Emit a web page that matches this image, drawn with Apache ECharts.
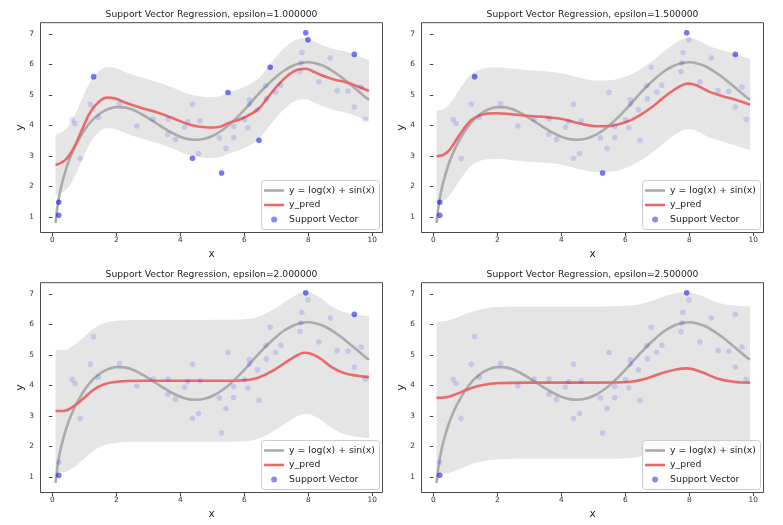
<!DOCTYPE html>
<html><head><meta charset="utf-8">
<script src="https://cdn.jsdelivr.net/npm/echarts@6/dist/echarts.min.js"></script>
<style>html,body{margin:0;padding:0;background:#fff}#c{width:783px;height:525px}</style>
</head><body><div id="c"></div>
<script>
// ---- data ----
const epsilons = [1.0, 1.5, 2.0, 2.5];
const xTicks = [0, 2, 4, 6, 8, 10];
const yTicks = [1, 2, 3, 4, 5, 6, 7];

const sampleX = [0.20,0.20,0.62,0.71,0.87,1.19,1.29,1.44,2.10,2.64,3.15,3.61,3.62,3.85,4.13,4.23,4.38,4.38,4.57,4.62,
  5.22,5.29,5.43,5.49,5.67,5.67,6.01,6.11,6.16,6.16,6.41,6.46,6.67,6.69,6.81,6.98,7.14,7.74,7.77,7.80,
  7.92,7.99,8.33,8.69,8.90,9.24,9.44,9.44,9.65,9.78];
const sampleY = [1.48,1.05,4.19,4.06,2.91,4.69,5.60,4.27,4.72,3.98,4.21,3.71,4.21,3.54,3.94,4.13,4.69,2.92,3.08,4.15,
  3.59,2.44,3.24,5.08,3.96,3.60,4.19,3.92,4.85,4.70,4.51,3.51,5.31,4.87,5.91,5.09,5.32,5.77,6.05,6.39,
  7.04,6.81,5.43,6.21,5.14,5.12,6.33,4.60,5.26,4.20];

// support-vector indices (into the sample arrays) for each epsilon
const sv1 = [0,1,6,17,21,23,31,34,40,41,46];
const sv2 = [0,1,6,21,40,46];
const sv3 = [1,40,46];
const sv4 = [1,40];

const trueX = [0.1,0.15,0.2,0.25,0.3,0.4,0.5,0.6,0.75,1.0,1.25,1.5,1.75,2.0,2.25,2.5,2.75,3.0,3.25,3.5,3.75,4.0,4.25,4.5,4.75,
  5.0,5.25,5.5,5.75,6.0,6.25,6.5,6.75,7.0,7.25,7.5,7.75,8.0,8.25,8.5,8.75,9.0,9.25,9.5,9.75,9.9];
const trueY = [0.80,1.25,1.59,1.86,2.09,2.47,2.79,3.05,3.39,3.84,4.17,4.40,4.54,4.60,4.59,4.52,4.39,4.24,4.07,3.90,3.75,3.63,3.55,3.53,3.56,
  3.65,3.80,4.00,4.24,4.51,4.80,5.09,5.36,5.60,5.80,5.95,6.04,6.07,6.03,5.94,5.79,5.61,5.40,5.18,4.96,4.84];

const predX1 = [0.1,0.4,0.66,0.92,1.19,1.45,1.71,1.97,2.23,2.76,3.28,3.81,4.33,4.86,5.2,5.47,6.0,6.42,6.73,7.05,7.36,7.67,7.93,8.19,8.5,8.82,9.13,9.45,9.9];
const predY1 = [2.70,2.86,3.24,3.84,4.44,4.77,4.91,4.88,4.77,4.58,4.42,4.22,4.01,3.93,3.95,4.06,4.26,4.52,4.91,5.32,5.64,5.83,5.86,5.75,5.61,5.50,5.43,5.32,5.13];
const predX2 = [0.1,0.29,0.5,0.71,0.92,1.18,1.45,1.71,1.97,2.49,3.02,3.54,4.06,4.59,5.11,5.5,6.03,6.45,6.87,7.29,7.70,7.96,8.22,8.64,9.05,9.47,9.9];
const predY2 = [2.99,3.02,3.19,3.51,3.84,4.17,4.33,4.39,4.40,4.36,4.31,4.27,4.20,4.06,3.97,3.98,4.11,4.33,4.63,4.99,5.28,5.37,5.32,5.10,4.96,4.83,4.68];
const predX3 = [0.1,0.34,0.65,0.97,1.28,1.6,2.02,2.75,3.8,4.85,5.9,6.43,6.95,7.48,7.9,8.32,8.74,9.16,9.58,9.9];
const predY3 = [3.16,3.16,3.30,3.57,3.85,4.03,4.12,4.15,4.15,4.15,4.16,4.25,4.52,4.88,5.07,4.92,4.59,4.39,4.31,4.27];
const predX4 = [0.1,0.4,0.71,1.13,1.55,1.97,3.01,4.06,5.1,6.15,6.67,7.2,7.62,7.93,8.35,8.87,9.39,9.9];
const predY4 = [3.59,3.61,3.71,3.89,4.01,4.07,4.09,4.09,4.09,4.12,4.23,4.42,4.53,4.56,4.45,4.23,4.12,4.09];

const titles = epsilons.map(e => 'Support Vector Regression, epsilon=' + e.toFixed(6));
const nameTrue = 'y = log(x) + sin(x)';
const namePred = 'y_pred';
const nameSV = 'Support Vector';

// ---- layout / style ----
const FONT = 'DejaVu Sans';
const panels = [
  {left: 40.5, top: 22.7},
  {left: 421.5, top: 22.7},
  {left: 40.5, top: 282.7},
  {left: 421.5, top: 282.7}
];
const PW = 342, PH = 209.8;
const GRAY = '#ababab', RED = '#e96a6a';
const preds = [[predX1,predY1],[predX2,predY2],[predX3,predY3],[predX4,predY4]];
const svs = [sv1, sv2, sv3, sv4];
const lineIcon = 'path://M0,0H20V2.6H0Z';

const grid = [], xAxis = [], yAxis = [], series = [], legend = [], graphic = [];
panels.forEach((p, i) => {
  grid.push({left: p.left, top: p.top, width: PW, height: PH, show: true,
    borderColor: '#4a4a4a', borderWidth: 1, backgroundColor: 'transparent', outerBoundsMode: 'none', containLabel: false});
  xAxis.push({gridIndex: i, type: 'value', min: -0.37, max: 10.32,
    axisLine: {show: false}, splitLine: {show: false},
    axisTick: {show: true, length: 3.5, customValues: xTicks, lineStyle: {color: '#444', width: 1}},
    axisLabel: {customValues: xTicks, fontSize: 7.4, color: '#333', margin: 4.5, fontFamily: FONT},
    name: 'x', nameLocation: 'middle', nameGap: 16, nameTextStyle: {fontSize: 10.5, color: '#222', fontFamily: FONT}});
  yAxis.push({gridIndex: i, type: 'value', min: 0.485, max: 7.37,
    axisLine: {show: false}, splitLine: {show: false},
    axisTick: {show: true, length: 3.5, customValues: yTicks, lineStyle: {color: '#444', width: 1}},
    axisLabel: {customValues: yTicks, fontSize: 7.4, color: '#333', margin: 6.5, fontFamily: FONT},
    name: 'y', nameLocation: 'middle', nameGap: 13, nameTextStyle: {fontSize: 11, color: '#222', fontFamily: FONT}});
  const eps = epsilons[i];
  const [px, py] = preds[i];
  // epsilon tube: stacked on the y dimension (first column holds y, second x)
  series.push({type: 'line', xAxisIndex: i, yAxisIndex: i, stack: 'band' + i, silent: true,
    encode: {x: 1, y: 0},
    data: px.map((x, k) => [py[k] - eps, x]), symbol: 'none', smooth: 0.4,
    lineStyle: {opacity: 0}, z: 1});
  series.push({type: 'line', xAxisIndex: i, yAxisIndex: i, stack: 'band' + i, silent: true,
    encode: {x: 1, y: 0},
    data: px.map(x => [2 * eps, x]), symbol: 'none', smooth: 0.4,
    lineStyle: {opacity: 0}, areaStyle: {color: '#e5e5e5', opacity: 1}, z: 1});
  series.push({type: 'line', name: nameTrue, xAxisIndex: i, yAxisIndex: i,
    data: trueX.map((x, k) => [x, trueY[k]]), symbol: 'none', smooth: 0.3,
    color: GRAY, lineStyle: {color: GRAY, width: 2.6}, z: 3});
  series.push({type: 'line', name: namePred, xAxisIndex: i, yAxisIndex: i,
    data: px.map((x, k) => [x, py[k]]), symbol: 'none', smooth: 0.4,
    color: RED, lineStyle: {color: RED, width: 2.6}, z: 4});
  series.push({type: 'scatter', name: 'data', xAxisIndex: i, yAxisIndex: i,
    data: sampleX.map((x, k) => [x, sampleY[k]]), symbolSize: 5.6,
    itemStyle: {color: 'rgba(0,0,255,0.17)'}, z: 5, silent: true});
  series.push({type: 'scatter', name: nameSV, xAxisIndex: i, yAxisIndex: i,
    data: svs[i].map(k => [sampleX[k], sampleY[k]]), symbolSize: 5.6,
    itemStyle: {color: 'rgba(0,0,240,0.58)'}, z: 6, silent: true});
  const right = 783 - (p.left + PW) + 3;
  const bottom = 525 - (p.top + PH) + 3;
  legend.push({data: [
      {name: nameTrue, icon: lineIcon, itemStyle: {color: GRAY}},
      {name: namePred, icon: lineIcon, itemStyle: {color: RED}},
      {name: nameSV, icon: 'circle'}],
    orient: 'vertical', symbolKeepAspect: true,
    right: right, bottom: bottom, itemWidth: 20, itemHeight: 6, itemGap: 3.5,
    padding: [4.5, 4.5, 4.5, 2.5], backgroundColor: 'rgba(255,255,255,0.8)',
    borderColor: '#cccccc', borderWidth: 1, borderRadius: 3, selectedMode: false,
    textStyle: {fontSize: 9.3, lineHeight: 11, color: '#222', fontFamily: FONT}});
  graphic.push({type: 'text', x: p.left + PW / 2, y: p.top - 7.7, silent: true,
    style: {text: titles[i], fill: '#222', font: '9.2px "DejaVu Sans"', align: 'center', verticalAlign: 'middle'}});
});

const chart = echarts.init(document.getElementById('c'), null, {renderer: 'canvas'});
chart.setOption({animation: false, backgroundColor: '#fff', grid, xAxis, yAxis, series, legend, graphic});
</script></body></html>
